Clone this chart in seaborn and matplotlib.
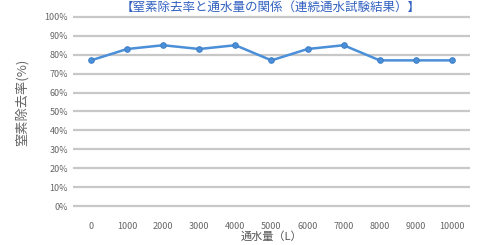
import matplotlib.pyplot as plt
import pandas as pd
import seaborn as sns

# data
volume = ["0", "1000", "2000", "3000", "4000", "5000", "6000", "7000", "8000", "9000", "10000"]
removal = [77, 83, 85, 83, 85, 77, 83, 85, 77, 77, 77]
y_ticks = [0, 10, 20, 30, 40, 50, 60, 70, 80, 90, 100]

df = pd.DataFrame({"volume": volume, "removal": removal})
df["pos"] = range(len(volume))

sns.set_style("white")
plt.rcParams["font.family"] = ["Noto Sans CJK JP", "DejaVu Sans"]

fig = plt.figure(figsize=(4.83, 2.45), dpi=100)
ax = fig.add_axes([0.151, 0.151, 0.822, 0.788])

for t in y_ticks:
    ax.axhline(t, color="#c8c8c8", lw=1.6, zorder=0)

sns.lineplot(data=df, x="pos", y="removal", ax=ax, color="#4a8fd8", lw=1.8,
             marker="o", markersize=4, markeredgecolor="#3d7fc8")

ax.set_xlim(-0.5, len(volume) - 0.5)
ax.set_ylim(-1, 101)
ax.set_xticks(df["pos"])
ax.set_xticklabels(volume)
ax.set_yticks(y_ticks)
ax.set_yticklabels([f"{t}%" for t in y_ticks])
ax.tick_params(axis="both", length=0, labelsize=6.5, colors="#666666")
ax.tick_params(axis="x", pad=10)
for s in ax.spines.values():
    s.set_visible(False)

ax.set_xlabel("通水量（L）", fontsize=8, color="#555555", labelpad=0)
ax.set_ylabel("窒素除去率(%)", fontsize=9.5, color="#666666")
ax.yaxis.set_label_coords(-0.11, 0.55)

fig.text(0.56, 0.998, "【窒素除去率と通水量の関係（連続通水試験結果）】", color="#3060c0",
         fontsize=9, ha="center", va="top")

fig.savefig("out.png", dpi=100)
